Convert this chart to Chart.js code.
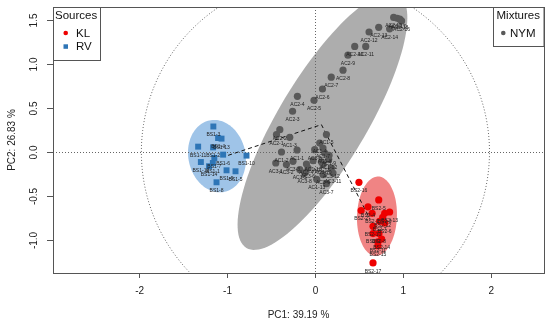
<!DOCTYPE html>
<html>
<head>
<meta charset="utf-8">
<script src="https://cdn.jsdelivr.net/npm/chart.js@4.4.1/dist/chart.umd.min.js"></script>
<style>
html, body { margin: 0; padding: 0; background: #fff; }
#chart { display: block; }
</style>
</head>
<body>
<canvas id="chart" width="550" height="325"></canvas>
<script>
// PCA scores
var nymLabels = ["AC2-1","AC2-2","AC1-3","AC2-3","AC2-4","AC2-5","AC2-6","AC2-7","AC2-8","AC2-9",
  "AC2-10","AC2-11","AC2-12","AC2-13","AC2-14","AC2-15","AC2-16","AC2-17","AC2-18",
  "AC1-5","AC1-4","AC1-2","AC1-1","AC1-6","AC1-7","AC1-8","AC1-9","AC3-1","AC3-2","AC3-3",
  "AC3-4","AC1-10","AC1-11","AC1-12","AC3-5","AC3-6","AC3-10","AC3-12","AC3-11","AC3-9",
  "AC3-8","AC3-7","AC1-13"];
var nymX = [-0.443,-0.405,-0.292,-0.26,-0.205,-0.016,0.08,0.18,0.314,0.37,
  0.447,0.572,0.61,0.72,0.844,0.89,0.98,0.93,0.96,
  0.125,0.049,-0.386,-0.209,-0.008,0.086,0.106,0.155,-0.451,-0.33,-0.255,
  -0.102,-0.027,0.068,0.151,-0.178,-0.084,0.086,0.182,0.2,0.086,
  -0.122,0.125,0.015];
var nymY = [0.197,0.254,0.167,0.463,0.633,0.587,0.716,0.85,0.93,1.10,
  1.20,1.20,1.364,1.417,1.40,1.53,1.49,1.52,1.51,
  0.198,0.102,0.0,0.023,0.027,0.045,-0.011,-0.038,-0.125,-0.143,-0.106,
  -0.136,-0.098,-0.111,-0.083,-0.2,-0.182,-0.143,-0.182,-0.239,-0.257,
  -0.237,-0.36,-0.31];

var rvLabels = ["BS1-3","BS1-4","BS1-13","BS1-11","BS1-2","BS1-6","BS1-7","BS1-1","BS1-12",
  "BS1-9","BS1-5","BS1-8","BS1-10","BS1-14"];
var rvX = [-1.161,-1.107,-1.068,-1.334,-1.164,-1.05,-1.15,-1.167,-1.303,-1.011,-0.909,-1.125,-0.784,-1.21];
var rvY = [0.29,0.159,0.152,0.061,0.053,-0.03,-0.068,-0.125,-0.114,-0.208,-0.219,-0.344,-0.041,-0.162];

var klLabels = ["BS2-16","BS2-5","BS2-4","BS2-2","BS2-1","BS2-3","BS2-13","BS2-12","BS2-7",
  "BS2-6","BS2-10","BS2-9","BS2-8","BS2-11","BS2-14","BS2-15","BS2-17"];
var klX = [0.495,0.72,0.598,0.52,0.645,0.788,0.844,0.765,0.73,0.788,0.655,0.655,0.723,0.711,0.753,0.711,0.655];
var klY = [-0.344,-0.545,-0.623,-0.666,-0.697,-0.697,-0.682,-0.742,-0.788,-0.807,-0.844,-0.927,-0.927,-1.02,-0.99,-1.064,-1.261];

// dashed mixing line: RV centre -> vertex -> KL
var mixX = [-0.993, 0.068, 0.62];
var mixY = [-0.038, 0.311, -0.76];

// confidence ellipses: centre x, centre y, semi-major, semi-minor, angle (deg)
var nymEllipse = [0.08, 0.35, 1.68, 0.5, 59];
var klEllipse = [0.70, -0.73, 0.452, 0.227, 88];
var rvEllipse = [-1.12, -0.047, 0.415, 0.325, 102];
var circleRadius = 1.98;

var xTicks = [-2, -1, 0, 1, 2];
var yTicks = [-1, -0.5, 0, 0.5, 1, 1.5];
var xRange = [-2.985, 2.60];
var yRange = [-1.375, 1.648];

var FONT = '"Liberation Sans", Arial, sans-serif';

function pts(xs, ys) {
  var out = [];
  for (var i = 0; i < xs.length; i++) out.push({ x: xs[i], y: ys[i] });
  return out;
}

function ellipsePath(ctx, xs, ys, e) {
  var th = e[4] * Math.PI / 180;
  ctx.beginPath();
  for (var i = 0; i <= 120; i++) {
    var t = i / 120 * Math.PI * 2;
    var ex = e[0] + e[2] * Math.cos(t) * Math.cos(th) - e[3] * Math.sin(t) * Math.sin(th);
    var ey = e[1] + e[2] * Math.cos(t) * Math.sin(th) + e[3] * Math.sin(t) * Math.cos(th);
    var px = xs.getPixelForValue(ex), py = ys.getPixelForValue(ey);
    if (i == 0) ctx.moveTo(px, py); else ctx.lineTo(px, py);
  }
  ctx.closePath();
}

var backdrop = {
  id: 'backdrop',
  beforeDatasetsDraw: function (chart) {
    var ctx = chart.ctx, a = chart.chartArea;
    var xs = chart.scales.x, ys = chart.scales.y;
    ctx.save();
    ctx.beginPath();
    ctx.rect(a.left, a.top, a.right - a.left, a.bottom - a.top);
    ctx.clip();

    ctx.fillStyle = '#adadad';
    ellipsePath(ctx, xs, ys, nymEllipse);
    ctx.fill();
    ctx.fillStyle = '#9fc4e8';
    ellipsePath(ctx, xs, ys, rvEllipse);
    ctx.fill();
    ctx.fillStyle = '#f08484';
    ellipsePath(ctx, xs, ys, klEllipse);
    ctx.fill();

    ctx.strokeStyle = '#666';
    ctx.lineWidth = 1;
    ctx.setLineDash([1, 2]);
    ctx.beginPath();
    for (var i = 0; i <= 200; i++) {
      var t = i / 200 * Math.PI * 2;
      var px = xs.getPixelForValue(circleRadius * Math.cos(t));
      var py = ys.getPixelForValue(circleRadius * Math.sin(t));
      if (i == 0) ctx.moveTo(px, py); else ctx.lineTo(px, py);
    }
    ctx.stroke();

    var x0 = Math.round(xs.getPixelForValue(0)) + 0.5;
    var y0 = Math.round(ys.getPixelForValue(0)) + 0.5;
    ctx.beginPath();
    ctx.moveTo(x0, a.top); ctx.lineTo(x0, a.bottom);
    ctx.moveTo(a.left, y0); ctx.lineTo(a.right, y0);
    ctx.stroke();
    ctx.restore();
  },
  afterDatasetsDraw: function (chart) {
    var ctx = chart.ctx, a = chart.chartArea;
    var xs = chart.scales.x, ys = chart.scales.y;
    ctx.save();

    // point labels
    ctx.fillStyle = '#222';
    ctx.font = '5px ' + FONT;
    ctx.textAlign = 'center';
    ctx.textBaseline = 'middle';
    var groups = [[nymX, nymY, nymLabels], [rvX, rvY, rvLabels], [klX, klY, klLabels]];
    groups.forEach(function (g) {
      for (var i = 0; i < g[0].length; i++) {
        ctx.fillText(g[2][i], xs.getPixelForValue(g[0][i]), ys.getPixelForValue(g[1][i]) + 8.5);
      }
    });

    // box
    ctx.strokeStyle = '#555';
    ctx.lineWidth = 1;
    ctx.strokeRect(Math.round(a.left) + 0.5, Math.round(a.top) + 0.5,
      Math.round(a.right - a.left), Math.round(a.bottom - a.top));

    // y ticks, rotated like the original
    ctx.fillStyle = '#222';
    ctx.font = '10px ' + FONT;
    yTicks.forEach(function (v) {
      var py = Math.round(ys.getPixelForValue(v)) + 0.5;
      ctx.beginPath();
      ctx.moveTo(a.left - 6, py); ctx.lineTo(a.left, py);
      ctx.stroke();
      ctx.save();
      ctx.translate(34, py);
      ctx.rotate(-Math.PI / 2);
      ctx.textAlign = 'center';
      ctx.textBaseline = 'middle';
      ctx.fillText(v.toFixed(1), 0, 0);
      ctx.restore();
    });

    // legends
    ctx.font = '11.5px ' + FONT;
    ctx.textAlign = 'left';
    ctx.textBaseline = 'middle';
    ctx.strokeRect(53.5, 7.5, 47, 53);
    ctx.fillStyle = '#111';
    ctx.fillText('Sources', 55, 16);
    ctx.fillText('KL', 76, 33.5);
    ctx.fillText('RV', 76, 47);
    ctx.fillStyle = '#ee0000';
    ctx.beginPath(); ctx.arc(65.7, 33, 2.3, 0, Math.PI * 2); ctx.fill();
    ctx.fillStyle = '#2e75b6';
    ctx.fillRect(63.5, 44.3, 4.5, 4.5);

    ctx.strokeRect(493.5, 7.5, 50.5, 39);
    ctx.fillStyle = '#111';
    ctx.fillText('Mixtures', 496.5, 16);
    ctx.fillText('NYM', 510, 33.5);
    ctx.fillStyle = '#595959';
    ctx.beginPath(); ctx.arc(503.3, 33, 2.3, 0, Math.PI * 2); ctx.fill();
    ctx.restore();
  }
};

new Chart(document.getElementById('chart'), {
  type: 'scatter',
  data: {
    datasets: [
      {
        label: 'mix', data: pts(mixX, mixY), showLine: true, borderColor: '#111',
        borderWidth: 1, borderDash: [4, 3], pointRadius: 0, order: 4
      },
      {
        label: 'NYM', data: pts(nymX, nymY), backgroundColor: '#595959',
        borderColor: '#595959', borderWidth: 0, pointRadius: 3.6, order: 3
      },
      {
        label: 'RV', data: pts(rvX, rvY), pointStyle: 'rect', backgroundColor: '#2e75b6',
        borderColor: '#2e75b6', borderWidth: 0, pointRadius: 4.2, order: 2
      },
      {
        label: 'KL', data: pts(klX, klY), backgroundColor: '#ee0000',
        borderColor: '#ee0000', borderWidth: 0, pointRadius: 3.6, order: 1
      }
    ]
  },
  options: {
    responsive: false,
    animation: false,
    devicePixelRatio: 1,
    layout: { padding: { top: 7, right: 6, left: 0, bottom: 0 } },
    plugins: { legend: { display: false }, tooltip: { enabled: false } },
    scales: {
      x: {
        type: 'linear', min: xRange[0], max: xRange[1],
        afterBuildTicks: function (s) { s.ticks = xTicks.map(function (v) { return { value: v }; }); },
        afterFit: function (s) { s.height = 52; },
        grid: { display: true, drawOnChartArea: false, drawTicks: true, tickLength: 5, color: '#555' },
        border: { display: false },
        ticks: { color: '#222', padding: 7, font: { family: FONT, size: 10 } },
        title: { display: true, text: 'PC1: 39.19 %', color: '#222', padding: { top: 0, bottom: 4 },
          font: { family: FONT, size: 10 } }
      },
      y: {
        type: 'linear', min: yRange[0], max: yRange[1],
        afterBuildTicks: function (s) { s.ticks = yTicks.map(function (v) { return { value: v }; }); },
        afterFit: function (s) { s.width = 53; },
        grid: { display: false },
        border: { display: false },
        ticks: { display: false },
        title: { display: true, text: 'PC2: 26.83 %', color: '#222', padding: { top: 6, bottom: 0 },
          font: { family: FONT, size: 10 } }
      }
    }
  },
  plugins: [backdrop]
});
</script>
</body>
</html>
